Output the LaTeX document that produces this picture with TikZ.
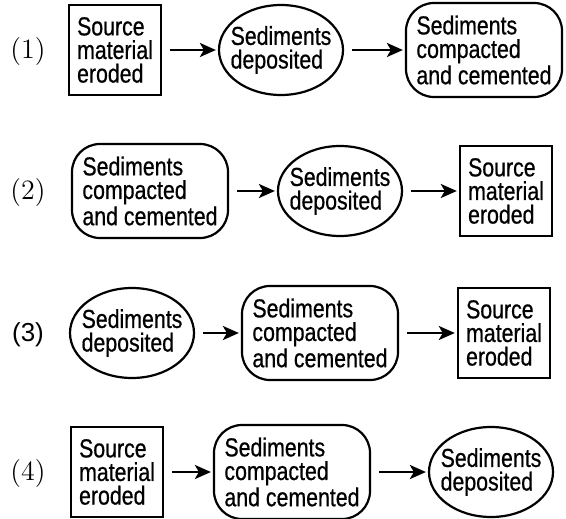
\documentclass[tikz,border=0pt]{standalone}
\usepackage{fontspec}
\newfontfamily\boxfont[FakeStretch=0.82,FakeBold=0.6]{Liberation Sans}
\newfontfamily\labelsans{Liberation Sans}
\usepackage{tikz}
\usetikzlibrary{arrows.meta,shapes.geometric}
\newcommand\stagefont{\fontsize{13}{11.8}\selectfont\boxfont}
\tikzset{
  stagebox/.style={draw,line width=1.2pt,minimum width=46pt,minimum height=45pt,inner sep=1pt,align=left,font=\stagefont},
  stageoval/.style={draw,ellipse,line width=1.1pt,minimum width=62pt,minimum height=45pt,inner xsep=-6pt,inner ysep=-2pt,align=left,font=\stagefont},
  stageround/.style={draw,rounded corners=14pt,line width=1.1pt,minimum width=78pt,minimum height=47pt,inner sep=1pt,align=left,font=\stagefont},
  flow/.style={-{Stealth[length=8pt,width=7pt,inset=2pt]},line width=1.3pt,shorten <=4pt,shorten >=1pt},
  rowlabel/.style={font=\fontsize{14}{16}\selectfont}
}

\begin{document}
\begin{tikzpicture}[x=0.5pt,y=-0.5pt]
\useasboundingbox (0,0) rectangle (566,518);
% row 1
\begin{scope}[shift={(0,50)}]
\node[rowlabel] (n1) at (28,2) {(1)};
\node[stagebox] (src1) at (115,0) {Source\\material\\eroded};
\node[stageoval] (dep1) at (281,0) {Sediments\\deposited};
\node[stageround] (cem1) at (484,0) {Sediments\\compacted\\and cemented};
\draw[flow] (src1) -- (dep1);
\draw[flow] (dep1) -- (cem1);
\end{scope}
% row 2
\begin{scope}[shift={(0,191)}]
\node[rowlabel] (n2) at (28,2) {(2)};
\node[stageround] (cem2) at (150,0) {Sediments\\compacted\\and cemented};
\node[stageoval] (dep2) at (340,0) {Sediments\\deposited};
\node[stagebox] (src2) at (506,0) {Source\\material\\eroded};
\draw[flow] (cem2) -- (dep2);
\draw[flow] (dep2) -- (src2);
\end{scope}
% row 3
\begin{scope}[shift={(0,333)}]
\node[rowlabel,font=\fontsize{13}{15}\selectfont\labelsans] (n3) at (28,2) {(3)};
\node[stageoval] (dep3) at (132,0) {Sediments\\deposited};
\node[stageround] (cem3) at (320,0) {Sediments\\compacted\\and cemented};
\node[stagebox] (src3) at (504,0) {Source\\material\\eroded};
\draw[flow] (dep3) -- (cem3);
\draw[flow] (cem3) -- (src3);
\end{scope}
% row 4
\begin{scope}[shift={(0,472)}]
\node[rowlabel] (n4) at (28,2) {(4)};
\node[stagebox] (src4) at (117,0) {Source\\material\\eroded};
\node[stageround] (cem4) at (292,0) {Sediments\\compacted\\and cemented};
\node[stageoval] (dep4) at (491,0) {Sediments\\deposited};
\draw[flow] (src4) -- (cem4);
\draw[flow] (cem4) -- (dep4);
\end{scope}
\end{tikzpicture}
\end{document}
